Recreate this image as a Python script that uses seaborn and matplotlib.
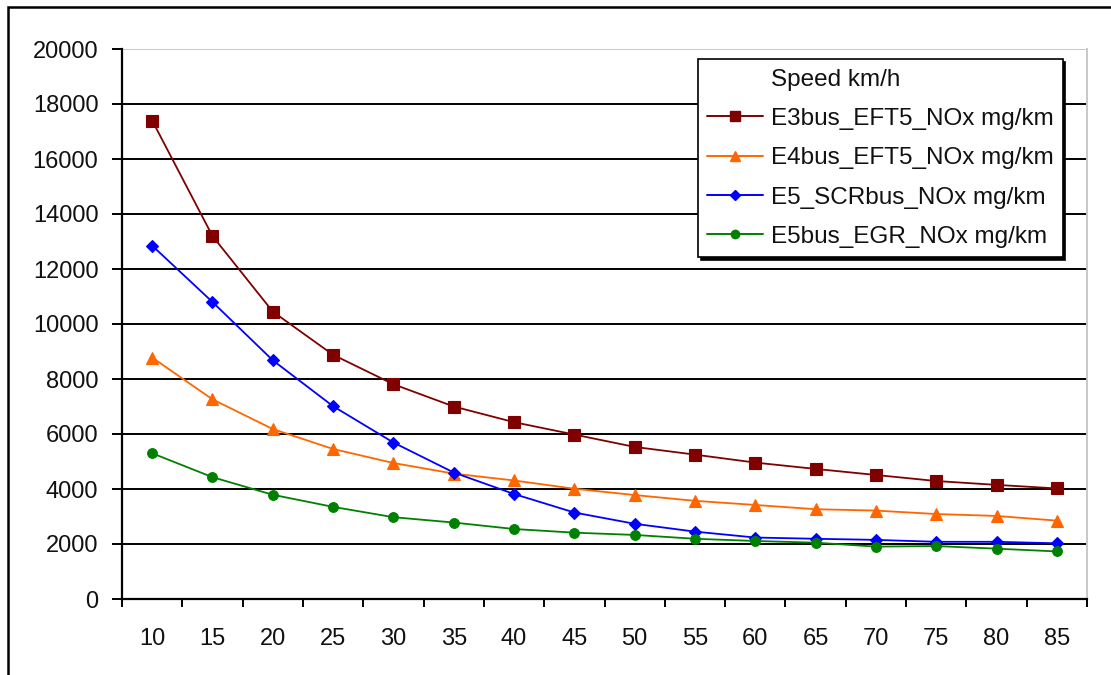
import numpy as np
import pandas as pd
import matplotlib
matplotlib.use("Agg")
import matplotlib.pyplot as plt
import seaborn as sns
from matplotlib.lines import Line2D
from matplotlib.patches import Rectangle

speeds = [10, 15, 20, 25, 30, 35, 40, 45, 50, 55, 60, 65, 70, 75, 80, 85]
e3_eft5 = [17400, 13200, 10450, 8880, 7810, 7000, 6430, 5980, 5530, 5250, 4960, 4730, 4510, 4290, 4150, 4020]
e4_eft5 = [8780, 7260, 6180, 5455, 4945, 4560, 4310, 4010, 3780, 3570, 3420, 3265, 3215, 3090, 3020, 2850]
e5_scr = [12850, 10800, 8680, 7010, 5690, 4600, 3818, 3145, 2735, 2450, 2235, 2190, 2150, 2080, 2080, 2025]
e5_egr = [5300, 4430, 3790, 3350, 2975, 2780, 2545, 2412, 2330, 2190, 2110, 2048, 1905, 1925, 1830, 1730]

series_names = ["E3bus_EFT5_NOx mg/km", "E4bus_EFT5_NOx mg/km",
                "E5_SCRbus_NOx mg/km", "E5bus_EGR_NOx mg/km"]
legend_title_entry = "Speed km/h"
y_ticks = [0, 2000, 4000, 6000, 8000, 10000, 12000, 14000, 16000, 18000, 20000]

colors = ["#800000", "#FF6600", "#0000FF", "#008000"]
markers = ["s", "^", "D", "o"]
msizes = [8, 8.5, 6.5, 7]

sns.set_theme(style="white")
plt.rcParams["font.family"] = ["Liberation Sans", "DejaVu Sans"]

W, H = 1111, 675
fig = plt.figure(figsize=(W / 100, H / 100), dpi=100)
L, R, T, B = 122, 1087, 49, 599
ax = fig.add_axes([L / W, 1 - B / H, (R - L) / W, (B - T) / H])

df = pd.DataFrame({"speed": speeds, series_names[0]: e3_eft5, series_names[1]: e4_eft5,
                   series_names[2]: e5_scr, series_names[3]: e5_egr})
long = df.melt(id_vars="speed", var_name="series", value_name="nox")

for i, name in enumerate(series_names):
    sub = long[long["series"] == name]
    sns.lineplot(data=sub, x="speed", y="nox", ax=ax, color=colors[i],
                 marker=markers[i], markersize=msizes[i], markeredgewidth=0.8,
                 markeredgecolor=colors[i], linewidth=1.3, legend=False)

ax.set_xlim(7.5, 87.5)
ax.set_ylim(0, 20000)
ax.set_xticks(speeds)
ax.set_xticklabels([str(s) for s in speeds])
ax.set_xticks([s - 2.5 for s in speeds] + [speeds[-1] + 2.5], minor=True)
ax.set_yticks(y_ticks)
ax.set_yticklabels([str(v) for v in y_ticks])
ax.set_xlabel("")
ax.set_ylabel("")

ax.tick_params(axis="x", which="major", length=0, pad=21, labelsize=17, colors="#111111")
ax.tick_params(axis="x", which="minor", length=6, width=1.4, color="black", direction="out", bottom=True)
ax.tick_params(axis="y", which="major", length=7, width=1.4, color="black", direction="out",
               left=True, pad=10, labelsize=17, labelcolor="#111111")

ax.grid(False)
for v in y_ticks[1:-1]:
    ax.axhline(v, color="black", linewidth=1.4, zorder=0.5)
ax.axhline(y_ticks[-1], color="#c8c8c8", linewidth=1.4, zorder=0.5)

for side in ["left", "bottom"]:
    ax.spines[side].set_color("black")
    ax.spines[side].set_linewidth(1.6)
ax.spines["top"].set_visible(False)
ax.spines["right"].set_color("#c8c8c8")
ax.spines["right"].set_linewidth(1.4)

handles = [Line2D([], [], linestyle="none", marker=None)]
for i in range(4):
    handles.append(Line2D([], [], color=colors[i], marker=markers[i], markersize=msizes[i] - 1,
                          linewidth=1.4, markeredgecolor=colors[i]))
labels = [legend_title_entry] + series_names
leg = ax.legend(handles, labels, loc="upper left", bbox_to_anchor=(0.597, 0.981),
                borderaxespad=0, fontsize=17.5, frameon=True, fancybox=False,
                handlelength=2.3, handletextpad=0.3, labelspacing=0.71,
                borderpad=0.38, shadow={"color": "black", "alpha": 1, "ox": 2, "oy": -2})
leg.get_frame().set_edgecolor("black")
leg.get_frame().set_linewidth(1.2)
for t in leg.get_texts():
    t.set_color("#111111")

# outer chart border (left and top edges visible)
fig.add_artist(Rectangle((8 / W, -0.1), 1.2, (1 - 7 / H) + 0.1, transform=fig.transFigure,
                         fill=False, edgecolor="black", linewidth=1.8))

fig.savefig("out.png", dpi=100)
